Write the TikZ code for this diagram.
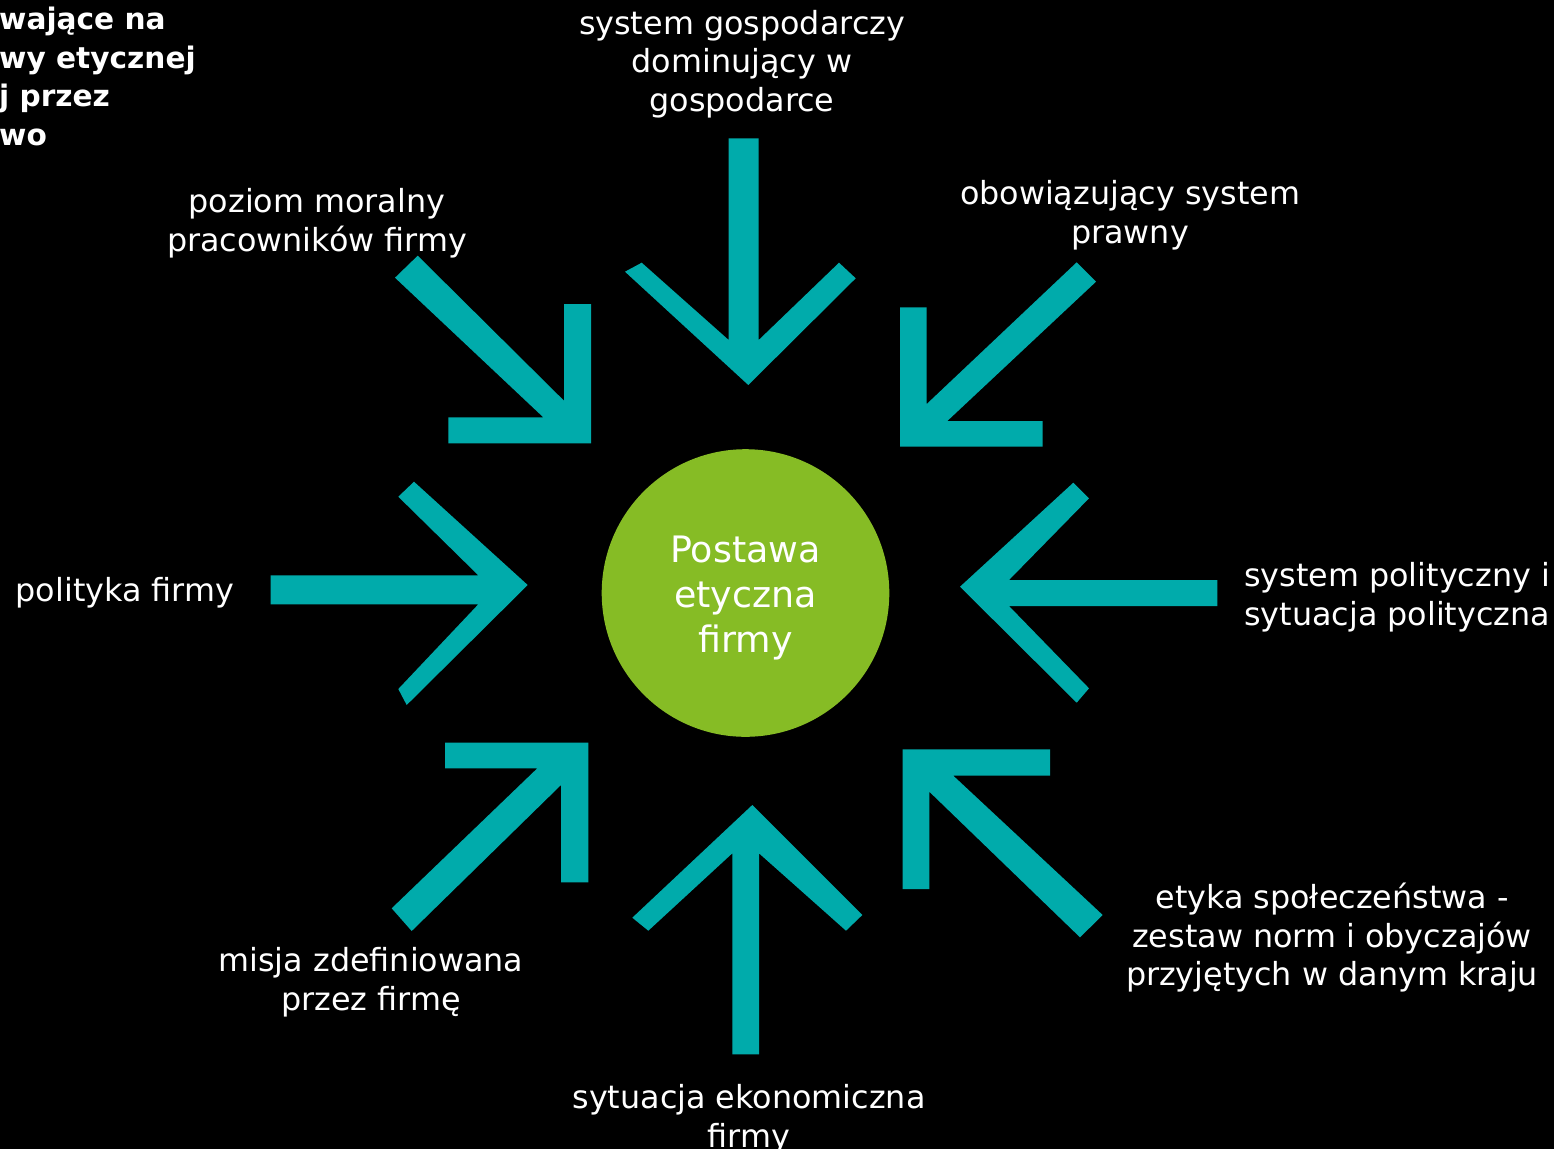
\documentclass[tikz,border=0pt]{standalone}
\usepackage{fontspec}
\setmainfont{DejaVu Sans}
\definecolor{teal}{HTML}{00ABAB}
\definecolor{lime}{HTML}{86BC25}
\begin{document}
\begin{tikzpicture}[x=1pt,y=-1pt,
  arrowshape/.style={fill=teal,draw=none},
  lbl/.style={text=white,align=center,inner sep=0pt,font=\fontsize{31.8}{38.5}\selectfont},
  head/.style={text=white,align=left,inner sep=0pt,anchor=north west,font=\fontsize{29.6}{38.5}\selectfont\bfseries}]
\fill[black] (0,0) rectangle (1554,1149);
\useasboundingbox (0,0) rectangle (1554,1149);

% heading (cut off at left edge)
\node[head] (head) at (-1,7) {wające na\\wy etycznej\\j przez\\wo};

% centre
\node[circle,fill=lime,minimum size=287.6pt,inner sep=0pt] (c) at (745.5,593) {};
\node[text=white,align=center,inner sep=0pt,font=\fontsize{36.4}{45}\selectfont] (ct) at (745.5,598) {Postawa\\etyczna\\firmy};

% arrows
% top, pointing down
\fill[arrowshape] (728.7,138.3) -- (758.7,138.3) -- (758.7,340) -- (839,262.7) -- (855.7,278.3)
  -- (748.3,385) -- (625,271.7) -- (641.7,262.7) -- (728.7,340) -- cycle;
% top-left, pointing down-right
\fill[arrowshape] (417.7,255.7) -- (564,400.7) -- (564,304) -- (591,304) -- (591,443.3)
  -- (448.3,443.3) -- (448.3,417.3) -- (543.3,417.3) -- (395,277.7) -- cycle;
% top-right, pointing down-left
\fill[arrowshape] (1076.7,262.3) -- (926.7,404) -- (926.7,307.3) -- (900,307.3) -- (900,446.7)
  -- (1042.7,446.7) -- (1042.7,421) -- (947.3,421) -- (1096,281.7) -- cycle;
% left, pointing right
\fill[arrowshape] (270.7,575.3) -- (478.3,575.3) -- (398.3,496.7) -- (414,481.7) -- (527.7,585)
  -- (406.7,705) -- (398.3,689) -- (478.3,604.3) -- (270.7,604.3) -- cycle;
% right, pointing left
\fill[arrowshape] (1217.3,580) -- (1009,580) -- (1089,498.3) -- (1073.3,482.7) -- (960,586.7)
  -- (1076.7,702.7) -- (1089,688.3) -- (1009,606) -- (1217.3,606) -- cycle;
% bottom-left, pointing up-right
\fill[arrowshape] (445,742.7) -- (588.3,742.7) -- (588.3,882.3) -- (561,882.3) -- (561,785)
  -- (411.7,931) -- (391.7,908.3) -- (537.3,768.3) -- (445,768.3) -- cycle;
% bottom, pointing up
\fill[arrowshape] (752.3,805) -- (862.3,915) -- (846,930.7) -- (759,853.3) -- (759,1054.3)
  -- (732.3,1054.3) -- (732.3,853.3) -- (648.3,930.7) -- (632.3,917.7) -- cycle;
% bottom-right, pointing up-left
\fill[arrowshape] (902.7,749.3) -- (1050,749.3) -- (1050,775.7) -- (953.3,775.7) -- (1102.7,915)
  -- (1080,937.3) -- (929.3,791.7) -- (929.3,889) -- (902.7,889) -- cycle;

% labels
\node[lbl] (l1) at (742,64) {system gospodarczy\\dominujący w\\gospodarce};
\node[lbl] (l2) at (317,223) {poziom moralny\\pracowników firmy};
\node[lbl] (l3) at (1130,215) {obowiązujący system\\prawny};
\node[lbl] (l4) at (125,593) {polityka firmy};
\node[lbl,align=left,anchor=west] (l5) at (1244,597) {system polityczny i\\sytuacja polityczna};
\node[lbl] (l6) at (1332,938) {etyka społeczeństwa -\\zestaw norm i obyczajów\\przyjętych w danym kraju};
\node[lbl] (l7) at (749,1119) {sytuacja ekonomiczna\\firmy};
\node[lbl] (l8) at (371,982) {misja zdefiniowana\\przez firmę};
\end{tikzpicture}
\end{document}
